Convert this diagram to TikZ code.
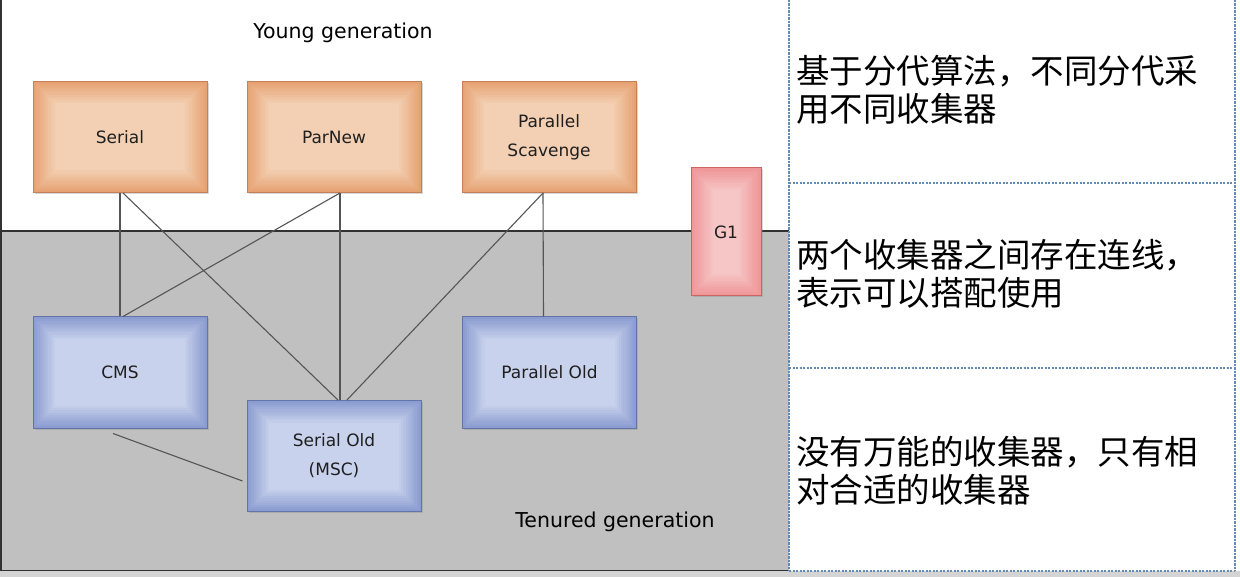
\documentclass[tikz,border=0pt]{standalone}
\usepackage{fontspec}
\setmainfont{DejaVu Sans}
\newfontfamily\cjk{Noto Sans CJK SC}
\usetikzlibrary{shadows}
\definecolor{oraOut}{RGB}{230,162,115}
\definecolor{oraIn}{RGB}{243,208,180}
\definecolor{oraLine}{RGB}{196,128,88}
\definecolor{bluOut}{RGB}{138,156,208}
\definecolor{bluIn}{RGB}{200,210,236}
\definecolor{bluLine}{RGB}{98,116,168}
\definecolor{pnkOut}{RGB}{238,150,152}
\definecolor{pnkIn}{RGB}{246,198,198}
\definecolor{pnkLine}{RGB}{205,100,100}
\definecolor{tenured}{RGB}{192,192,192}
\definecolor{frame}{RGB}{50,50,50}
\definecolor{conn}{RGB}{85,85,85}
\definecolor{dashc}{RGB}{100,138,182}
\definecolor{strip}{RGB}{212,212,212}
\tikzset{
  bevel/.style n args={3}{rectangle, inner sep=0pt, draw=#3, line width=1pt,
    drop shadow={shadow xshift=1.5pt, shadow yshift=-1.5pt, opacity=0.3},
    path picture={
      \foreach \i [evaluate=\i as \p using int(\i*10)] in {0,...,10}{
        \fill[#2!\p!#1] ([shift={(\i*2.2pt,-\i*2.2pt)}]path picture bounding box.north west)
          rectangle ([shift={(-\i*2.2pt,\i*2.2pt)}]path picture bounding box.south east);
      }
    }},
  young/.style={bevel={oraOut}{oraIn}{oraLine}, minimum width=174pt, minimum height=111pt},
  old/.style={bevel={bluOut}{bluIn}{bluLine}, minimum width=174pt, minimum height=111pt},
  gone/.style={bevel={pnkOut}{pnkIn}{pnkLine}, minimum width=70pt, minimum height=128pt},
  lbl/.style={font=\fontsize{17}{29}\selectfont, text=black!88, align=center},
  gen/.style={font=\fontsize{20.5}{24}\selectfont, text=black},
  link/.style={draw=conn, line width=1.1pt},
  cjkt/.style={font=\cjk\fontsize{33.5}{38}\selectfont, align=left, inner sep=0pt, anchor=west},
  dashline/.style={draw=dashc, line width=2pt, dash pattern=on 2.2pt off 1.3pt}
}
\begin{document}
\begin{tikzpicture}[x=1pt,y=-1pt]
\useasboundingbox (0,0) rectangle (1240,577);
\fill[white] (0,0) rectangle (1240,577);
\fill[strip] (0,571) rectangle (1240,577);
\fill[tenured] (1,231) rectangle (789,570);
\draw[frame, line width=1.5pt] (1,0) -- (1,570);
\draw[frame, line width=1.5pt] (0,231) -- (789,231);
\draw[frame, line width=1.5pt] (0,570.5) -- (789,570.5);

% right panel
\draw[dashline] (789,0) -- (789,571);
\draw[dashline] (1235,0) -- (1235,571);
\draw[dashline] (789,183) -- (1235,183);
\draw[dashline] (789,368) -- (1235,368);
\draw[dashline] (789,571) -- (1235,571);

\node[cjkt] (t1) at (796,90) {基于分代算法，不同分代采\\用不同收集器};
\node[cjkt] (t2) at (796,274) {两个收集器之间存在连线，\\表示可以搭配使用};
\node[cjkt] (t3) at (796,471) {没有万能的收集器，只有相\\对合适的收集器};

\node[gen] (yg) at (343,33) {Young generation};
\node[gen] (tg) at (615,522) {Tenured generation};

\node[young] (serial) at (120,137) {};
\node[young] (parnew) at (334,137) {};
\node[young] (pscav) at (549,137) {};
\node[gone] (g1) at (726,232) {};
\node[old] (cms) at (120,372.5) {};
\node[old] (sold) at (334,456) {};
\node[old] (pold) at (549.5,372.5) {};

\node[lbl] at (serial) {Serial};
\node[lbl] at (parnew) {ParNew};
\node[lbl] at (pscav) {Parallel\\Scavenge};
\node[lbl] at (g1) {G1};
\node[lbl] at (cms) {CMS};
\node[lbl] at (sold) {Serial Old\\(MSC)};
\node[lbl] at (pold) {Parallel Old};

\draw[link] (serial.south) -- (cms.north);
\draw[link] ([xshift=3pt]serial.south) -- ([xshift=4pt]sold.north);
\draw[link] ([xshift=6pt]parnew.south) -- ([xshift=3pt]cms.north);
\draw[link] ([xshift=6pt]parnew.south) -- ([xshift=6pt]sold.north);
\draw[link] ([xshift=-6pt]pscav.south) -- ([xshift=13pt]sold.north);
\draw[link] ([xshift=-6pt]pscav.south) -- ([xshift=-6pt]pold.north);
\draw[link] ([xshift=-7pt,yshift=-5pt]cms.south) -- ([xshift=-4pt,yshift=-25pt]sold.west);
\end{tikzpicture}
\end{document}
